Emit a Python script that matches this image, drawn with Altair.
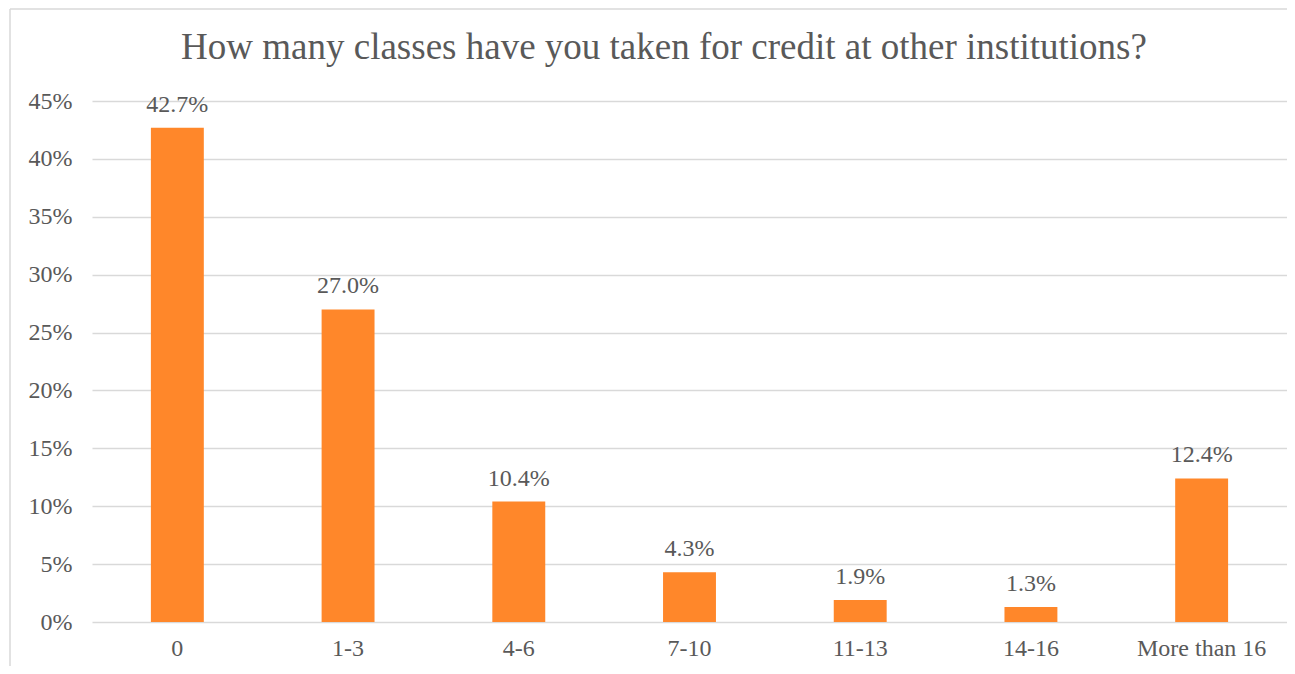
import altair as alt
import pandas as pd

categories = ["0", "1-3", "4-6", "7-10", "11-13", "14-16", "More than 16"]
shares = [0.427, 0.270, 0.104, 0.043, 0.019, 0.013, 0.124]
title_text = "How many classes have you taken for credit at other institutions?"

df = pd.DataFrame({"cat": categories, "share": shares})

FONT = "Liberation Serif"
GREY = "#595959"

x = alt.X("cat:N", sort=categories, title=None,
          scale=alt.Scale(paddingInner=0.69, paddingOuter=0.345),
          axis=alt.Axis(labelAngle=0, labelFont=FONT, labelFontSize=24, labelColor=GREY,
                        labelPadding=14, ticks=False, domain=False, grid=False))
y = alt.Y("share:Q", title=None,
          scale=alt.Scale(domain=[0, 0.45], nice=False),
          axis=alt.Axis(format=".0%", values=[i * 0.05 for i in range(10)],
                        labelFont=FONT, labelFontSize=24, labelColor=GREY,
                        labelPadding=20, ticks=False, domain=False,
                        grid=True, gridColor="#d9d9d9", gridWidth=1.5))

one = pd.DataFrame({"k": [0]})
top_edge = alt.Chart(one).mark_rule(stroke="#d9d9d9", strokeWidth=1.5).encode(
    x=alt.value(-82), x2=alt.value(1195), y=alt.value(-92))
left_edge = alt.Chart(one).mark_rule(stroke="#d9d9d9", strokeWidth=1.5).encode(
    x=alt.value(-82), y=alt.value(-92), y2=alt.value(565))

title = alt.Chart(pd.DataFrame({"t": [title_text]})).mark_text(
    font=FONT, fontSize=37, color=GREY, align="center", baseline="middle").encode(
    x=alt.value(572), y=alt.value(-53), text="t:N")

bars = alt.Chart(df).mark_bar(color="#FF872A").encode(x=x, y=y)
labels = alt.Chart(df).mark_text(font=FONT, fontSize=24, color=GREY,
                                 baseline="bottom", dy=-11).encode(
    x=alt.X("cat:N", sort=categories),
    y="share:Q",
    text=alt.Text("share:Q", format=".1%"))

chart = (top_edge + left_edge + title + bars + labels).properties(
    width=1195, height=521,
    autosize=alt.AutoSizeParams(type="none"),
    padding={"left": 84, "top": 93, "right": 0, "bottom": 44},
).configure_view(stroke=None)

chart.save("out.html", embed_options={"renderer": "svg", "actions": False})
